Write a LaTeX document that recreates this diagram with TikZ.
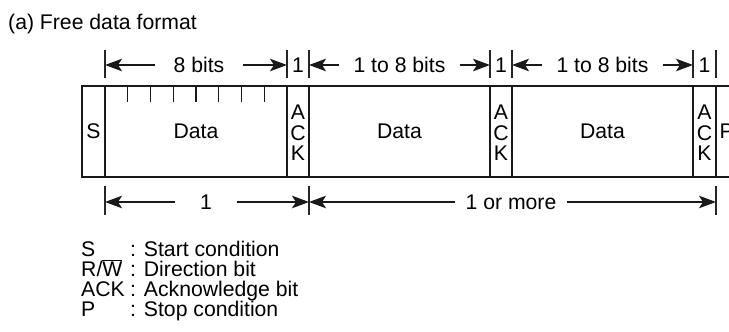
\documentclass[tikz,border=0pt]{standalone}
\usepackage{fontspec}
\setmainfont{Liberation Sans}
\usetikzlibrary{arrows.meta}
\tikzset{
  frame/.style={line width=1.8pt, draw=black!90},
  tick/.style={line width=1.4pt, draw=black!90},
  extline/.style={line width=1.4pt, draw=black!85},
  dimline/.style={line width=1.6pt, draw=black!90, -{Stealth[length=17pt,width=12.5pt,inset=4pt]}},
  txt/.style={font=\fontsize{21.2}{24}\selectfont, inner sep=0pt},
  dimlbl/.style={txt, inner ysep=0pt},
  acklbl/.style={font=\fontsize{21.2}{20.5}\selectfont, align=center, inner sep=0pt}
}
\begin{document}
\begin{tikzpicture}[x=1pt,y=-1pt]
\useasboundingbox (0,0) rectangle (729,332);
% title
\node[txt, anchor=base west] (title) at (8,29) {(a) Free data format};
% frame
\draw[frame] (729,86) -- (82,86) -- (82,177) -- (729,177);
\foreach \x in {105,287,309,490,512,693,716}
  \draw[frame] (\x,86) -- (\x,177);
% ticks
\foreach \i in {1,...,7}
  \draw[tick] (105+\i*22.75,86) -- (105+\i*22.75,102);
% field texts
\node[txt] (s) at (93.5,131.5) {S};
\node[txt] (d1) at (196,131.5) {Data};
\node[txt] (d2) at (399.5,131.5) {Data};
\node[txt] (d3) at (602.5,131.5) {Data};
\node[acklbl] (a1) at (298,133) {A\\C\\K};
\node[acklbl] (a2) at (501,133) {A\\C\\K};
\node[acklbl] (a3) at (704.5,133) {A\\C\\K};
\node[txt, anchor=west] (p) at (719.5,131.5) {P};
% top extension lines
\foreach \x in {105,287,309,490,512,693,716}
  \draw[extline] (\x,50) -- (\x,78);
\coordinate (t1) at (105,65);
\coordinate (t2) at (287,65);
\coordinate (t3) at (309,65);
\coordinate (t4) at (490,65);
\coordinate (t5) at (512,65);
\coordinate (t6) at (693,65);
% top labels
\node[dimlbl, inner xsep=18.5pt] (l8) at (199,65) {8 bits};
\node[dimlbl, inner xsep=14pt] (lb2) at (399.5,65) {1 to 8 bits};
\node[dimlbl, inner xsep=14pt] (lb3) at (602.5,65) {1 to 8 bits};
\node[dimlbl] (o1) at (298,65) {1};
\node[dimlbl] (o2) at (501,65) {1};
\node[dimlbl] (o3) at (704.5,65) {1};
\draw[dimline] (l8.west) -- (t1);
\draw[dimline] (l8.east) -- (t2);
\draw[dimline] (lb2.west) -- (t3);
\draw[dimline] (lb2.east) -- (t4);
\draw[dimline] (lb3.west) -- (t5);
\draw[dimline] (lb3.east) -- (t6);
% bottom extension lines
\foreach \x in {105,309,716}
  \draw[extline] (\x,186) -- (\x,215);
\coordinate (b1) at (105,202);
\coordinate (b2) at (309,202);
\coordinate (b3) at (716,202);
\node[dimlbl, inner xsep=25pt] (one) at (206,202) {1};
\node[dimlbl, inner xsep=10pt] (more) at (511,202) {1 or more};
\draw[dimline] (one.west) -- (b1);
\draw[dimline] (one.east) -- (b2);
\draw[dimline] (more.west) -- (b2);
\draw[dimline] (more.east) -- (b3);
% legend
\node[txt, anchor=base west] (k1) at (81,256.5) {S};
\node[txt, anchor=base west] (k2) at (81,276.5) {R/$\overline{\mbox{W}}$};
\node[txt, anchor=base west] (k3) at (81,296.5) {ACK};
\node[txt, anchor=base west] (k4) at (81,316.5) {P};
\node[txt, anchor=base west] (v1) at (130,256.5) {: Start condition};
\node[txt, anchor=base west] (v2) at (130,276.5) {: Direction bit};
\node[txt, anchor=base west] (v3) at (130,296.5) {: Acknowledge bit};
\node[txt, anchor=base west] (v4) at (130,316.5) {: Stop condition};
\end{tikzpicture}
\end{document}
